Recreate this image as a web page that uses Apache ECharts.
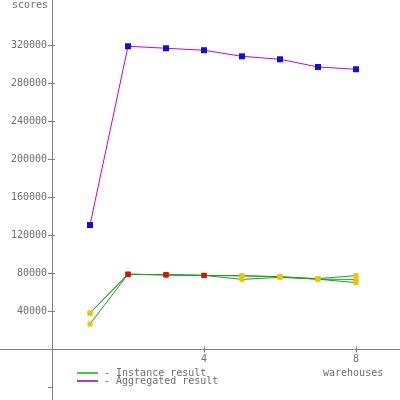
<!DOCTYPE html>
<html>
<head>
<meta charset="utf-8">
<script src="https://cdn.jsdelivr.net/npm/echarts@6/dist/echarts.min.js"></script>
<style>
  html, body { margin: 0; padding: 0; background: #fff; }
  #chart { width: 400px; height: 400px; }
</style>
</head>
<body>
<div id="chart"></div>
<script>
// data
const warehouses = [1, 2, 3, 4, 5, 6, 7, 8]
const aggregated = [131000, 319200, 317100, 315000, 308600, 305500, 297400, 295000]
const instanceA = [38400, 79200, 78600, 78000, 77600, 76600, 74600, 77800]
const instanceB = [26800, 79200, 78600, 78000, 73800, 76000, 74000, 73800]
const instanceC = [38400, 79200, 78600, 78000, 77600, 76600, 74000, 70400]
const xTickLabels = [4, 8]
const yTickLabels = [40000, 80000, 120000, 160000, 200000, 240000, 280000, 320000]
const yTickMarks = [-40000].concat(yTickLabels)

const AXIS = '#808080'
const TEXT = '#6e6e6e'
const FONT = 'DejaVu Sans Mono'
const GREEN = '#1d9e1d'
const MAGENTA = '#cc00cc'

const pairs = vals => warehouses.map((w, i) => [w, vals[i]])

// red squares on the flat stretch, yellow elsewhere
const instanceColor = p => (p.dataIndex >= 1 && p.dataIndex <= 3 ? '#dd1100' : '#eec400')

function instanceSeries(vals) {
  return {
    name: 'Instance result',
    type: 'line',
    xAxisIndex: 0,
    yAxisIndex: 0,
    data: pairs(vals),
    symbol: 'rect',
    symbolSize: 5,
    lineStyle: { width: 1, color: GREEN },
    itemStyle: { color: instanceColor },
    emphasis: { disabled: true },
  }
}

const label = { color: TEXT, fontFamily: FONT, fontSize: 10 }

const chart = echarts.init(document.getElementById('chart'))

chart.setOption({
  animation: false,
  grid: [
    // plot area: 0,0 at (52, 349.5), 38px per unit / per 40000
    { left: 52, right: 0, top: 0, bottom: 50.5, outerBoundsMode: 'none' },
    // same scale but running past the canvas, only for the crossing axis lines
    { left: -100, right: -108, top: -30.5, bottom: -25.5, outerBoundsMode: 'none' },
  ],
  legend: {
    orient: 'vertical',
    left: 72,
    top: 363,
    itemWidth: 21,
    itemHeight: 2,
    itemGap: -2,
    icon: 'rect',
    formatter: '- {name}',
    textStyle: Object.assign({}, label, { padding: [0, 0, 0, 1] }),
    data: [
      { name: 'Instance result', itemStyle: { color: '#3fcf3f' } },
      { name: 'Aggregated result', itemStyle: { color: '#b43cb4' } },
    ],
  },
  graphic: [
    {
      type: 'text', left: 12, top: 0,
      style: { text: 'scores', font: '10px ' + FONT, fill: TEXT },
    },
    {
      type: 'text', left: 323, top: 368,
      style: { text: 'warehouses', font: '10px ' + FONT, fill: TEXT },
    },
  ],
  xAxis: [
    {
      type: 'value', gridIndex: 0,
      min: 0, max: 348 / 38, interval: 4,
      axisLine: { show: false },
      axisTick: { show: true, inside: true, length: 3, customValues: xTickLabels, lineStyle: { color: AXIS } },
      axisLabel: Object.assign({ margin: 5, formatter: v => (xTickLabels.includes(v) ? String(v) : '') }, label),
      splitLine: { show: false },
    },
    {
      type: 'value', gridIndex: 1,
      min: -4, max: 12, interval: 4,
      axisLine: { onZero: true, lineStyle: { color: AXIS, width: 1 } },
      axisTick: { show: true, length: 3, customValues: xTickLabels, lineStyle: { color: AXIS } },
      axisLabel: { show: false },
      splitLine: { show: false },
    },
  ],
  yAxis: [
    {
      type: 'value', gridIndex: 0,
      min: 0, max: 349.5 * 40000 / 38, interval: 40000,
      axisLine: { show: false },
      axisTick: { show: true, inside: true, length: 3, customValues: yTickLabels, lineStyle: { color: AXIS } },
      axisLabel: Object.assign({ margin: 5, formatter: v => (yTickLabels.includes(v) ? String(v) : '') }, label),
      splitLine: { show: false },
    },
    {
      type: 'value', gridIndex: 1,
      min: -80000, max: 400000, interval: 40000,
      axisLine: { onZero: true, lineStyle: { color: AXIS, width: 1 } },
      axisTick: { show: true, length: 4, customValues: yTickMarks, lineStyle: { color: AXIS } },
      axisLabel: { show: false },
      splitLine: { show: false },
    },
  ],
  series: [
    instanceSeries(instanceA),
    instanceSeries(instanceB),
    instanceSeries(instanceC),
    {
      name: 'Aggregated result',
      type: 'line',
      xAxisIndex: 0,
      yAxisIndex: 0,
      data: pairs(aggregated),
      symbol: 'rect',
      symbolSize: 6,
      lineStyle: { width: 1, color: MAGENTA },
      itemStyle: { color: '#1010dd' },
      emphasis: { disabled: true },
    },
  ],
})
</script>
</body>
</html>
